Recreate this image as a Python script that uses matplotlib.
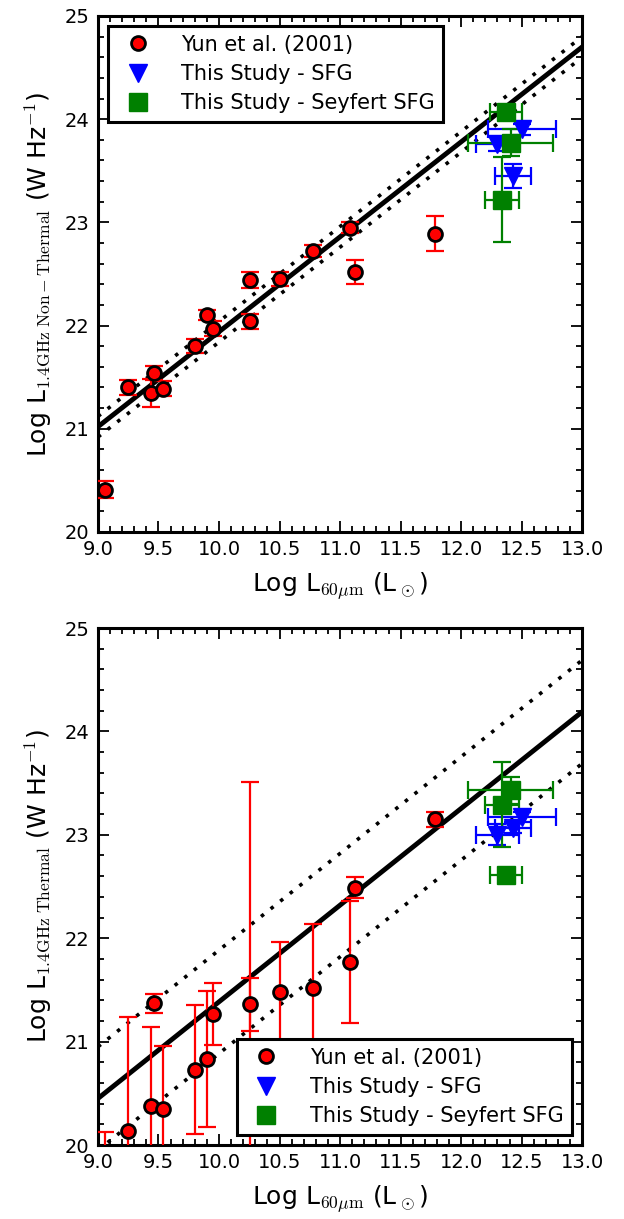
import numpy as np
import matplotlib
matplotlib.use("Agg")
import matplotlib.pyplot as plt
from matplotlib.ticker import MultipleLocator

# ---------------- data ----------------
# Yun et al. (2001) sample, Log L60um
yun_x = [9.06, 9.25, 9.44, 9.465, 9.54, 9.80, 9.90, 9.95, 10.26, 10.26,
         10.50, 10.78, 11.08, 11.12, 11.78]
# top panel: non-thermal
yun_nt = [20.41, 21.40, 21.35, 21.54, 21.39, 21.80, 22.10, 21.97, 22.44, 22.04,
          22.45, 22.72, 22.95, 22.52, 22.89]
yun_nt_err = [0.08, 0.07, 0.135, 0.07, 0.07, 0.07, 0.05, 0.07, 0.08, 0.07,
              0.07, 0.06, 0.05, 0.12, 0.17]
# bottom panel: thermal
yun_th = [19.90, 20.14, 20.38, 21.37, 20.35, 20.73, 20.83, 21.27, 19.60, 21.36,
          21.48, 21.52, 21.77, 22.49, 23.15]
yun_th_err = [0.23, 1.10, 0.76, 0.09, 0.61, 0.62, 0.66, 0.30, 3.91, 0.26,
              0.48, 0.62, 0.59, 0.10, 0.07]

# This Study - SFG
sfg_x = [12.50, 12.30, 12.43]
sfg_xerr = [0.28, 0.18, 0.15]
sfg_nt = [23.90, 23.76, 23.45]
sfg_nt_err = [0.05, 0.07, 0.12]
sfg_th = [23.17, 23.00, 23.07]
sfg_th_err = [0.05, 0.10, 0.05]

# This Study - Seyfert SFG
sey_x = [12.37, 12.41, 12.34]
sey_xerr = [0.13, 0.35, 0.14]
sey_nt = [24.07, 23.77, 23.22]
sey_nt_err = [0.05, 0.13, 0.41]
sey_th = [22.61, 23.43, 23.29]
sey_th_err = [0.04, 0.13, 0.41]

# relation lines (slope, value at x=9, scatter)
nt_slope, nt_at9, nt_scatter = 0.92, 21.02, 0.10
th_slope, th_at9, th_scatter = 0.935, 20.45, 0.50

xticks = [9.0, 9.5, 10.0, 10.5, 11.0, 11.5, 12.0, 12.5, 13.0]
yticks = [20, 21, 22, 23, 24, 25]

# ---------------- figure ----------------
plt.rcParams['font.family'] = ['DejaVu Sans']
plt.rcParams['mathtext.fontset'] = 'cm'

fig = plt.figure(figsize=(6.24, 12.19), dpi=100)
ax1 = fig.add_axes([0.157, 0.5636, 0.776, 0.4233])
ax2 = fig.add_axes([0.157, 0.0607, 0.776, 0.4241])

xline = np.array([9.0, 13.0])


def panel(ax, yy, yerr, s_y, s_yerr, q_y, q_yerr, slope, at9, scat, ylabel, legloc):
    yl = at9 + slope * (xline - 9.0)
    ax.plot(xline, yl, color='black', lw=3.5, zorder=2)
    ax.plot(xline, yl + scat, color='black', lw=2.6, ls=(0, (1, 2.4)), zorder=2)
    ax.plot(xline, yl - scat, color='black', lw=2.6, ls=(0, (1, 2.4)), zorder=2)

    ax.errorbar(yun_x, yy, yerr=yerr, fmt='none', ecolor='red', elinewidth=1.6,
                capsize=6.5, capthick=1.6, zorder=3)
    ax.plot(yun_x, yy, 'o', color='red', mec='black', mew=2, ms=10, zorder=4,
            label='Yun et al. (2001)')

    ax.errorbar(sfg_x, s_y, xerr=sfg_xerr, yerr=s_yerr, fmt='none', ecolor='blue',
                elinewidth=1.6, capsize=6.5, capthick=1.6, zorder=3)
    ax.plot(sfg_x, s_y, 'v', color='blue', mec='blue', ms=12.5, zorder=4,
            label='This Study - SFG')

    ax.errorbar(sey_x, q_y, xerr=sey_xerr, yerr=q_yerr, fmt='none', ecolor='green',
                elinewidth=1.6, capsize=6.5, capthick=1.6, zorder=3)
    ax.plot(sey_x, q_y, 's', color='green', mec='green', ms=12.5, zorder=4,
            label='This Study - Seyfert SFG')

    ax.set_xlim(9.0, 13.0)
    ax.set_ylim(20, 25)
    ax.set_xticks(xticks)
    ax.set_xticklabels(['%.1f' % t for t in xticks])
    ax.set_yticks(yticks)
    ax.set_yticklabels(['%d' % t for t in yticks])
    ax.xaxis.set_minor_locator(MultipleLocator(0.1))
    ax.yaxis.set_minor_locator(MultipleLocator(0.2))
    ax.tick_params(which='both', direction='in', top=True, right=True,
                   labelsize=14, width=1.3)
    ax.tick_params(which='major', length=8, pad=6)
    ax.tick_params(which='minor', length=4)
    for sp in ax.spines.values():
        sp.set_linewidth(2.2)

    ax.set_xlabel(r'Log L$_{60\mu\mathrm{m}}$ (L$_\odot$)', fontsize=18, labelpad=8)
    ax.set_ylabel(ylabel, fontsize=18, labelpad=8)

    leg = ax.legend(loc=legloc, numpoints=1, fontsize=15, fancybox=False,
                    framealpha=1, edgecolor='black', handletextpad=1.1,
                    borderpad=0.4, labelspacing=0.45, borderaxespad=0.5)
    leg.get_frame().set_linewidth(2.2)


panel(ax1, yun_nt, yun_nt_err, sfg_nt, sfg_nt_err, sey_nt, sey_nt_err,
      nt_slope, nt_at9, nt_scatter,
      r'Log L$_{1.4\mathrm{GHz\ Non-Thermal}}$ (W Hz$^{-1}$)', 'upper left')
panel(ax2, yun_th, yun_th_err, sfg_th, sfg_th_err, sey_th, sey_th_err,
      th_slope, th_at9, th_scatter,
      r'Log L$_{1.4\mathrm{GHz\ Thermal}}$ (W Hz$^{-1}$)', 'lower right')

fig.savefig('out.png', dpi=100)
